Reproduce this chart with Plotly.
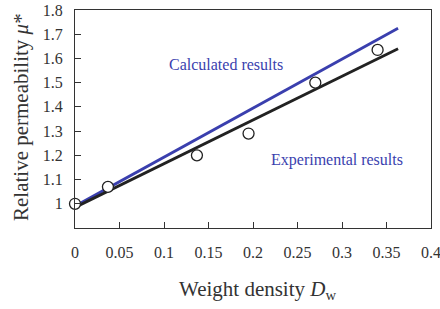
import plotly.graph_objects as go

exp_x = [0.0, 0.037, 0.137, 0.195, 0.27, 0.34]
exp_y = [1.0, 1.07, 1.20, 1.29, 1.50, 1.635]
calc_x = [0.0, 0.363]
calc_y = [0.99, 1.725]
fit_x = [0.0, 0.363]
fit_y = [0.985, 1.64]
x_ticks = [0, 0.05, 0.1, 0.15, 0.2, 0.25, 0.3, 0.35, 0.4]
x_tick_text = ["0", "0.05", "0.1", "0.15", "0.2", "0.25", "0.3", "0.35", "0.4"]
y_ticks = [1, 1.1, 1.2, 1.3, 1.4, 1.5, 1.6, 1.7, 1.8]
y_tick_text = ["1", "1.1", "1.2", "1.3", "1.4", "1.5", "1.6", "1.7", "1.8"]

FONT = "Liberation Serif"
BLUE = "#3a3fae"
TXT = "#333333"

W, H = 440, 309
L, R, T, B = 75, 9, 10, 81
pw, ph = W - L - R, H - T - B


def px_x(x):
    return (x - L) / pw


def px_y(y):
    return (H - B - y) / ph


fig = go.Figure()
fig.add_trace(go.Scatter(x=calc_x, y=calc_y, mode="lines",
                         line=dict(color=BLUE, width=2.8), showlegend=False))
fig.add_trace(go.Scatter(x=fit_x, y=fit_y, mode="lines",
                         line=dict(color="#222222", width=2.8), showlegend=False))
fig.add_trace(go.Scatter(x=exp_x, y=exp_y, mode="markers",
                         marker=dict(symbol="circle", size=11, color="white",
                                     line=dict(color="#222222", width=1.3)),
                         showlegend=False, cliponaxis=False))

fig.update_layout(
    width=W, height=H,
    margin=dict(l=L, r=R, t=T, b=B, autoexpand=False),
    paper_bgcolor="white", plot_bgcolor="white",
    font=dict(family=FONT, size=16, color=TXT),
    xaxis=dict(range=[0, 0.4], tickvals=x_ticks, ticktext=x_tick_text,
               ticks="inside", ticklen=6, tickcolor="#333", showgrid=False,
               zeroline=False, showline=True, linecolor="#333", linewidth=1.2,
               mirror=True, ticklabelstandoff=10, automargin=False,
               ticklabeloverflow="allow",
               tickfont=dict(family=FONT, size=16, color=TXT)),
    yaxis=dict(range=[0.9, 1.8], tickvals=y_ticks, ticktext=y_tick_text,
               ticks="inside", ticklen=6, tickcolor="#333", showgrid=False,
               zeroline=False, showline=True, linecolor="#333", linewidth=1.2,
               mirror=True, ticklabelstandoff=8, automargin=False,
               ticklabeloverflow="allow",
               tickfont=dict(family=FONT, size=16, color=TXT)),
    annotations=[
        dict(text="Calculated results", x=0.1035, y=1.575, xref="x", yref="y",
             xanchor="left", showarrow=False,
             font=dict(family=FONT, size=16, color=BLUE)),
        dict(text="Experimental results", x=0.2185, y=1.18, xref="x", yref="y",
             xanchor="left", showarrow=False,
             font=dict(family=FONT, size=16, color=BLUE)),
        dict(text="Weight density <i>D</i><sub>w</sub>",
             x=px_x(257), y=px_y(290),
             xref="paper", yref="paper", xanchor="center", yanchor="middle",
             showarrow=False, font=dict(family=FONT, size=21, color=TXT)),
        dict(text="Relative permeability <i>μ</i>*",
             x=px_x(21), y=px_y(117),
             xref="paper", yref="paper", xanchor="center", yanchor="middle",
             showarrow=False, textangle=-90,
             font=dict(family=FONT, size=21, color=TXT)),
    ],
)

fig.write_html("out.html",
               config={"displayModeBar": False},
               post_script="document.body.style.margin='0';"
                           "document.body.style.overflow='hidden';")
